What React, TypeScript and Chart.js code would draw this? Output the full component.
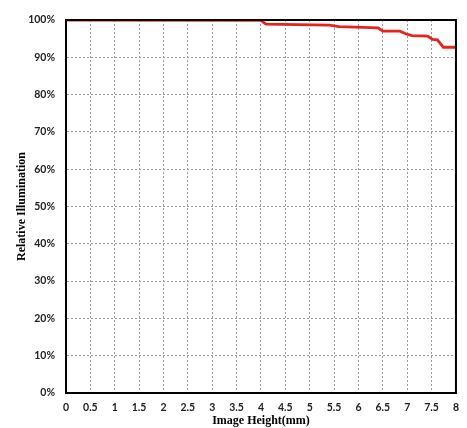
import React, { useEffect, useRef } from "react";
import { Chart, registerables } from "chart.js";
Chart.register(...registerables);

const imageHeight = [0, 4.0, 4.1, 5.4, 5.6, 6.4, 6.5, 6.85, 6.97, 7.1, 7.42, 7.52, 7.62, 7.74, 8.0];
const illumination = [100, 99.9, 98.9, 98.6, 98.2, 97.9, 97.0, 97.0, 96.3, 95.8, 95.7, 94.8, 94.7, 92.7, 92.7];
const xTitle = "Image Height(mm)";
const yTitle = "Relative Illumination";

const framePlugin = {
  id: "frame",
  afterDraw(chart: any) {
    const { ctx, chartArea: a } = chart;
    ctx.save();
    ctx.strokeStyle = "#000";
    ctx.lineWidth = 2;
    ctx.strokeRect(a.left, a.top, a.right - a.left, a.bottom - a.top);
    ctx.restore();
  },
};

export default function App() {
  const ref = useRef<HTMLCanvasElement>(null);
  useEffect(() => {
    const chart = new Chart(ref.current!, {
      type: "line",
      data: {
        datasets: [
          {
            data: imageHeight.map((x, i) => ({ x, y: illumination[i] })),
            borderColor: "#e8231e",
            borderWidth: 2.8,
            pointRadius: 0,
            tension: 0,
          },
        ],
      },
      options: {
        animation: false,
        responsive: false,
        layout: { padding: { top: 20, right: 10, left: 0, bottom: 0 } },
        plugins: { legend: { display: false }, tooltip: { enabled: false } },
        scales: {
          x: {
            type: "linear",
            min: 0,
            max: 8,
            afterFit: (s: any) => { s.height = 35; },
            ticks: {
              stepSize: 0.5,
              color: "#222",
              padding: 8,
              callback: (v: any) => String(v),
              font: { family: "Lato", weight: "bold", size: 10.5 },
              maxRotation: 0,
              autoSkip: false,
            },
            grid: { color: "#9a9a9a", drawTicks: false },
            border: { dash: [2, 2], color: "#000", width: 2 },
            title: {
              display: true,
              text: xTitle,
              color: "#000",
              font: { family: "Liberation Serif", weight: "bold", size: 12 },
              padding: { top: 0, bottom: 0 },
            },
          },
          y: {
            min: 0,
            max: 100,
            afterFit: (s: any) => { s.width = 66; },
            ticks: {
              stepSize: 10,
              color: "#222",
              padding: 11,
              callback: (v: any) => v + "%",
              font: { family: "Lato", weight: "bold", size: 10.5 },
            },
            grid: { color: "#9a9a9a", drawTicks: false },
            border: { dash: [2, 2], color: "#000", width: 2 },
            title: {
              display: true,
              text: yTitle,
              color: "#000",
              font: { family: "Liberation Serif", weight: "bold", size: 12 },
              padding: { top: 15, bottom: 0 },
            },
          },
        },
      },
      plugins: [framePlugin],
    });
    return () => chart.destroy();
  }, []);
  return (
    <div style={{ position: "fixed", left: 0, top: 0, width: 467, height: 428, background: "#fff" }}>
      <canvas ref={ref} width={467} height={428} />
    </div>
  );
}
